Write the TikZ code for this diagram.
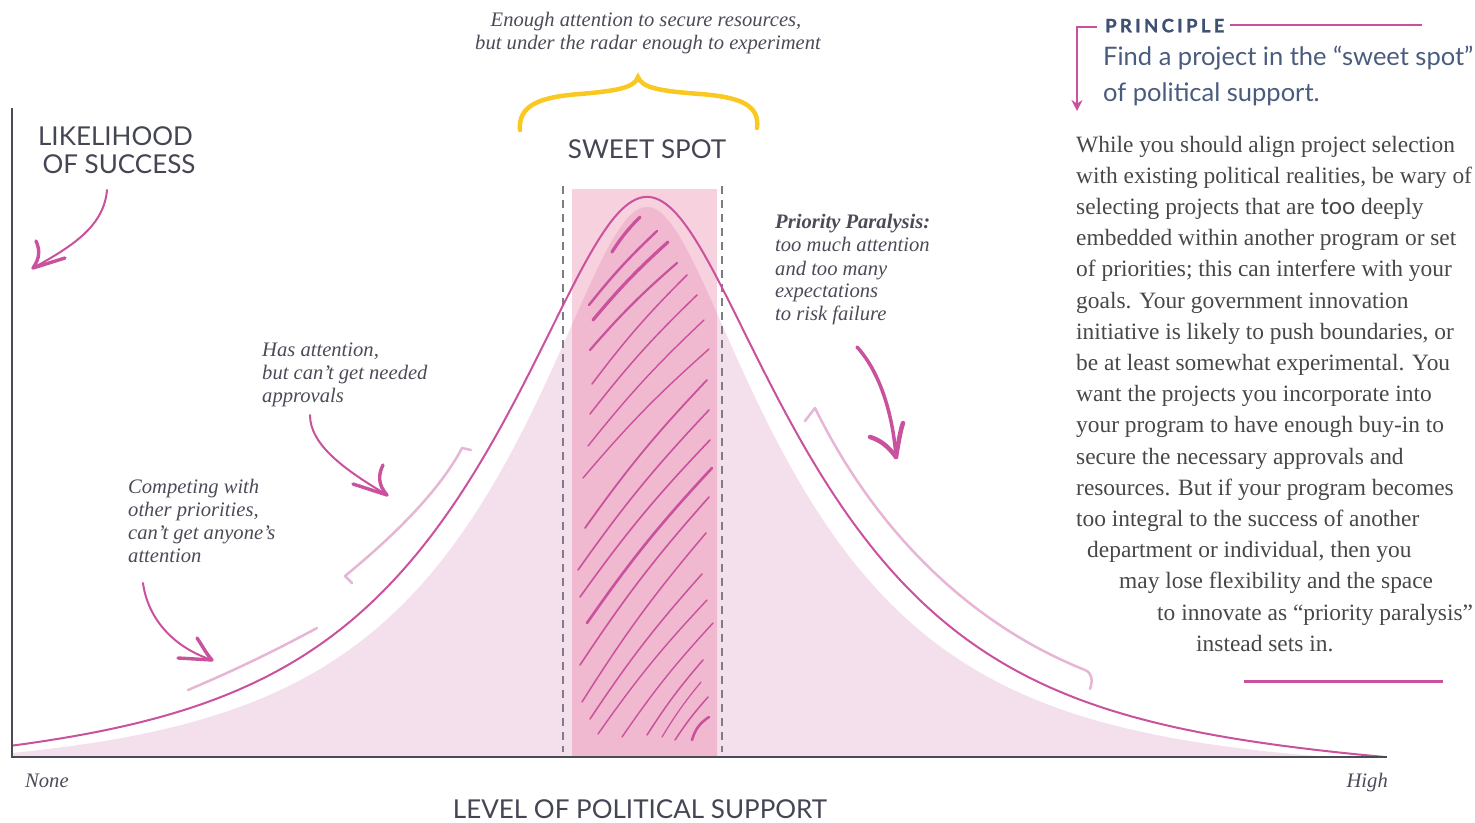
\documentclass[tikz,border=0pt]{standalone}
\usepackage{fontspec}
\setmainfont{Liberation Serif}
\newfontfamily\labelsans{Lato}
\newfontfamily\prinfont[LetterSpace=18, BoldFeatures={FakeBold=1.2}]{Lato}
\usetikzlibrary{arrows.meta}
\definecolor{mag}{HTML}{C9519D}
\definecolor{lightmag}{HTML}{E7B6D4}
\definecolor{fillpink}{HTML}{F4E0EC}
\definecolor{rectpink}{HTML}{F7D1DD}
\definecolor{overpink}{HTML}{F0B9CF}
\definecolor{axisgray}{HTML}{4A4B57}
\definecolor{capgray}{HTML}{454654}
\definecolor{italgray}{HTML}{4B4B58}
\definecolor{bodygray}{HTML}{474747}
\definecolor{slate}{HTML}{4A5C7E}
\definecolor{slatedark}{HTML}{3E5173}
\definecolor{dashgray}{HTML}{7D7D88}
\definecolor{gold}{HTML}{F9C922}
\def\fillcurve{(12,757) -- plot[domain=12:1330, samples=300] (\x, {757-550*exp(-0.668*(sqrt((abs(\x-647)/100)^2+0.36)-0.6))*(1-(abs(\x-647)/683)^6)}) -- (1330,757) -- cycle}
\begin{document}
\begin{tikzpicture}[x=1pt,y=-1pt,
  axisline/.style={draw=axisgray, line width=2.2pt},
  bell/.style={draw=mag, line width=2pt},
  hatch/.style={draw=mag, line cap=round},
  handarrow/.style={draw=mag, line width=2pt, line cap=round},
  barb/.style={draw=mag, line width=3.4pt, line cap=round},
  bracketln/.style={draw=lightmag, line width=2.5pt, line cap=round, line join=round},
  dashline/.style={draw=dashgray, line width=1.4pt, dash pattern=on 8pt off 6pt},
  ital/.style={font=\itshape\fontsize{20.6}{23}\selectfont, text=italgray, inner sep=0pt, anchor=base west},
  body/.style={font=\fontsize{23.4}{31.2}\selectfont, text=bodygray, inner sep=0pt, anchor=base west},
  caps/.style={font=\labelsans\fontsize{26}{29}\selectfont, text=capgray, inner sep=0pt, anchor=base},
]
\useasboundingbox (0,0) rectangle (1475,822);

% fills
\fill[fillpink] \fillcurve;
\fill[rectpink] (572,189) rectangle (717,757);
\begin{scope}
  \clip (572,189) rectangle (717,757);
  \fill[overpink] \fillcurve;
\end{scope}

% hatching
\draw[hatch, line width=3.2pt] (612,252) to[bend left=6] (640,217);
\draw[hatch, line width=2.4pt] (589,305) to[bend left=4] (657,231);
\draw[hatch, line width=3.2pt] (593,320) to[bend left=4] (668,242);
\draw[hatch, line width=2.2pt] (590,350) to[bend left=4] (677,263);
\draw[hatch, line width=1.5pt] (592,384) to[bend left=4] (687,275);
\draw[hatch, line width=1.5pt] (590,414) to[bend left=4] (697,295);
\draw[hatch, line width=1.4pt] (588,446) to[bend left=4] (704,320);
\draw[hatch, line width=1.4pt] (583,478) to[bend left=4] (709,349);
\draw[hatch, line width=1.8pt] (585,528) to[bend left=4] (707,380);
\draw[hatch, line width=1.6pt] (578,570) to[bend left=4] (709,410);
\draw[hatch, line width=1.6pt] (580,597) to[bend left=4] (710,440);
\draw[hatch, line width=2.6pt] (587,623) to[bend left=4] (712,468);
\draw[hatch, line width=1.6pt] (580,665) to[bend left=4] (709,497);
\draw[hatch, line width=1.5pt] (582,702) to[bend left=4] (706,533);
\draw[hatch, line width=1.5pt] (590,719) to[bend left=4] (702,574);
\draw[hatch, line width=1.4pt] (598,734) to[bend left=4] (707,600);
\draw[hatch, line width=1.4pt] (622,737) to[bend left=4] (713,623);
\draw[hatch, line width=1.5pt] (647,735) to[bend left=4] (703,660);
\draw[hatch, line width=1.2pt] (662,737) to[bend left=4] (701,682);
\draw[hatch, line width=1.5pt] (675,740) to[bend left=4] (708,697);
\draw[hatch, line width=2.6pt] (692,740) to[bend left=20] (709,717);

% dashed borders of the sweet spot
\draw[dashline] (563,186) -- (563,752);
\draw[dashline] (722,186) -- (722,752);

% bell curve
\draw[bell] plot[domain=12:1385, samples=400] (\x, {757-560*exp(-0.64*(sqrt((abs(\x-647)/100)^2+0.7744)-0.88))*(1-(abs(\x-647)/738)^8)});

% light brackets
\draw[bracketln] (188,690) .. controls (240,668) and (280,648) .. (317,628);
\draw[bracketln] (352,583) -- (345,576) .. controls (395,535) and (440,490) .. (462,448) -- (471,450);
\draw[bracketln] (805,421) -- (815,408) .. controls (870,520) and (960,620) .. (1085,670) .. controls (1092,673) and (1093,680) .. (1090,689);

% axes
\draw[axisline] (12,108) -- (12,757) -- (1387,757);

% axis labels
\node[caps] (ylab1) at (115.5,145) {LIKELIHOOD};
\node[caps] (ylab2) at (119,173) {OF SUCCESS};
\node[caps] (xlab) at (640,818) {LEVEL OF POLITICAL SUPPORT};
\node[ital, anchor=base west] (none) at (25,787) {None};
\node[ital, anchor=base east] (high) at (1388,787) {High};
\node[caps] (sweet) at (647,158) {SWEET SPOT};

% top annotation and brace
\node[ital, anchor=base] (top1) at (646,26) {Enough attention to secure resources,};
\node[ital, anchor=base] (top2) at (648,49) {but under the radar enough to experiment};
\draw[gold, line width=4.5pt, line cap=round] (520,130) .. controls (518,105) and (540,97) .. (580,94) .. controls (615,91) and (635,88) .. (638,77) .. controls (642,88) and (660,91) .. (700,94) .. controls (740,97) and (760,105) .. (757,128);

% likelihood arrow
\coordinate (la0) at (107,190);
\coordinate (la1) at (33,268);
\draw[handarrow] (la0) .. controls (104,225) and (75,245) .. (la1);
\draw[barb] (la1) .. controls (40,258) and (40,250) .. (36,241);
\draw[barb] (la1) -- (65,258);

% has attention note
\node[ital] (ha1) at (262,356) {Has attention,};
\node[ital] (ha2) at (262,379) {but can’t get needed};
\node[ital] (ha3) at (262,402) {approvals};
\coordinate (hb0) at (310,415);
\coordinate (hb1) at (387,495);
\draw[handarrow] (hb0) .. controls (310,445) and (345,470) .. (hb1);
\draw[barb] (hb1) .. controls (378,485) and (378,475) .. (383,465);
\draw[barb] (hb1) -- (353,484);

% competing note
\node[ital] (cp1) at (128,493) {Competing with};
\node[ital] (cp2) at (128,516.5) {other priorities,};
\node[ital] (cp3) at (128,539.5) {can’t get anyone’s};
\node[ital] (cp4) at (128,562.5) {attention};
\coordinate (cb0) at (143,583);
\coordinate (cb1) at (212,660);
\draw[handarrow] (cb0) .. controls (148,620) and (175,648) .. (cb1);
\draw[barb] (cb1) .. controls (205,652) and (202,645) .. (197,638);
\draw[barb] (cb1) -- (178,658);

% priority paralysis note
\node[ital, font=\bfseries\itshape\fontsize{20.6}{23}\selectfont] (pp1) at (775,228.5) {Priority Paralysis:};
\node[ital] (pp2) at (775,251.5) {too much attention};
\node[ital] (pp3) at (775,275) {and too many};
\node[ital] (pp4) at (775,297.5) {expectations};
\node[ital] (pp5) at (775,320.5) {to risk failure};
\coordinate (pb0) at (857,347);
\coordinate (pb1) at (896,457);
\draw[handarrow, line width=3.5pt] (pb0) .. controls (880,372) and (893,415) .. (pb1);
\draw[barb, line width=4.5pt] (pb1) .. controls (898,445) and (900,432) .. (903,423);
\draw[barb, line width=4.5pt] (pb1) .. controls (888,446) and (880,440) .. (870,437);

% principle block
\node[font=\prinfont\bfseries\fontsize{18.5}{20}\selectfont, text=slatedark, inner sep=0pt, anchor=base west] (prin) at (1105,32.3) {PRINCIPLE};
\coordinate (pr0) at (1097,27);
\coordinate (pr1) at (1077,27);
\coordinate (pr2) at (1077,111);
\draw[mag, line width=2.4pt, -{Stealth[length=11pt, width=11pt]}] (pr0) -- (pr1) -- (pr2);
\coordinate (prl0) at (1230,25);
\coordinate (prl1) at (1422,25);
\draw[mag, line width=2.4pt] (prl0) -- (prl1);
\node[font=\labelsans\fontsize{25.5}{30}\selectfont, text=slate, inner sep=0pt, anchor=base west] (find1) at (1103,65) {Find a project in the “sweet spot”};
\node[font=\labelsans\fontsize{25.5}{30}\selectfont, text=slate, inner sep=0pt, anchor=base west] (find2) at (1103,101) {of political support.};

% body text
\node[body] (b1) at (1076,152) {While you should align project selection};
\node[body] (b2) at (1076,183.2) {with existing political realities, be wary of};
\node[body] (b3) at (1076,214.4) {selecting projects that are {\labelsans too} deeply};
\node[body] (b4) at (1076,245.6) {embedded within another program or set};
\node[body] (b5) at (1076,276.8) {of priorities; this can interfere with your};
\node[body] (b6) at (1076,308) {goals. Your government innovation};
\node[body] (b7) at (1076,339.2) {initiative is likely to push boundaries, or};
\node[body] (b8) at (1076,370.4) {be at least somewhat experimental. You};
\node[body] (b9) at (1076,401.6) {want the projects you incorporate into};
\node[body] (b10) at (1076,432.8) {your program to have enough buy-in to};
\node[body] (b11) at (1076,464) {secure the necessary approvals and};
\node[body] (b12) at (1076,495.2) {resources. But if your program becomes};
\node[body] (b13) at (1076,526.4) {too integral to the success of another};
\node[body] (b14) at (1087,557.6) {department or individual, then you};
\node[body] (b15) at (1119,588.8) {may lose flexibility and the space};
\node[body] (b16) at (1157,620) {to innovate as “priority paralysis”};
\node[body] (b17) at (1196,651.2) {instead sets in.};
\coordinate (bl0) at (1244,681);
\coordinate (bl1) at (1443,681);
\draw[mag, line width=3pt] (bl0) -- (bl1);
\end{tikzpicture}
\end{document}
